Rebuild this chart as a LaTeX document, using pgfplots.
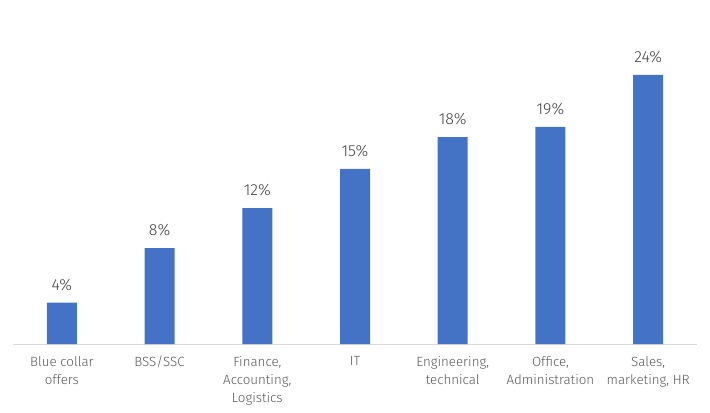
\documentclass[border=0pt]{standalone}
\usepackage{pgfplots}
\pgfplotsset{compat=1.18}
\usepackage{pgfplotstable}
\usepackage{fontspec}
\setmainfont{Fira Sans}[UprightFont=* Light]
\definecolor{barblue}{HTML}{4472C4}
\definecolor{valgray}{HTML}{404040}
\definecolor{catgray}{HTML}{595959}
\definecolor{axisgray}{HTML}{D9D9D9}

% x, bar height, printed label
\pgfplotstableread{
x   y     lab
0   3.69  4
1   8.57  8
2   12.14 12
3   15.63 15
4   18.48 18
5   19.38 19
6   24.02 24
}\shares

\begin{document}
\begin{tikzpicture}
\useasboundingbox (-9.75pt,-51pt) rectangle (522.75pt,258pt);
\begin{axis}[
    at={(0,0)}, anchor=south west,
    scale only axis,
    width=513pt, height=243pt,
    xmin=-0.5, xmax=6.5,
    ymin=0, ymax=28.93,
    axis y line=none,
    axis x line*=bottom,
    x axis line style={draw=axisgray, line width=0.75pt, -},
    xtick={0,...,6},
    xticklabels={{Blue collar\\offers},{BSS/SSC},{Finance,\\Accounting,\\Logistics},{IT},{Engineering,\\technical},{Office,\\Administration},{Sales,\\marketing, HR}},
    major tick length=0pt,
    xticklabel style={anchor=north, align=center, inner sep=0pt, yshift=-9pt,
        text=catgray, font=\fontsize{10}{13.5}\selectfont},
    ybar, bar width=22.5pt,
    nodes near coords={\pgfplotspointmeta\%},
    point meta=explicit symbolic,
    every node near coord/.append style={anchor=base, yshift=9.5pt, inner sep=0pt,
        text=valgray, font=\fontsize{12}{14}\selectfont},
    clip=false,
]
\addplot[fill=barblue, draw=none] table[x=x, y=y, meta=lab] {\shares};
\end{axis}
\end{tikzpicture}
\end{document}
